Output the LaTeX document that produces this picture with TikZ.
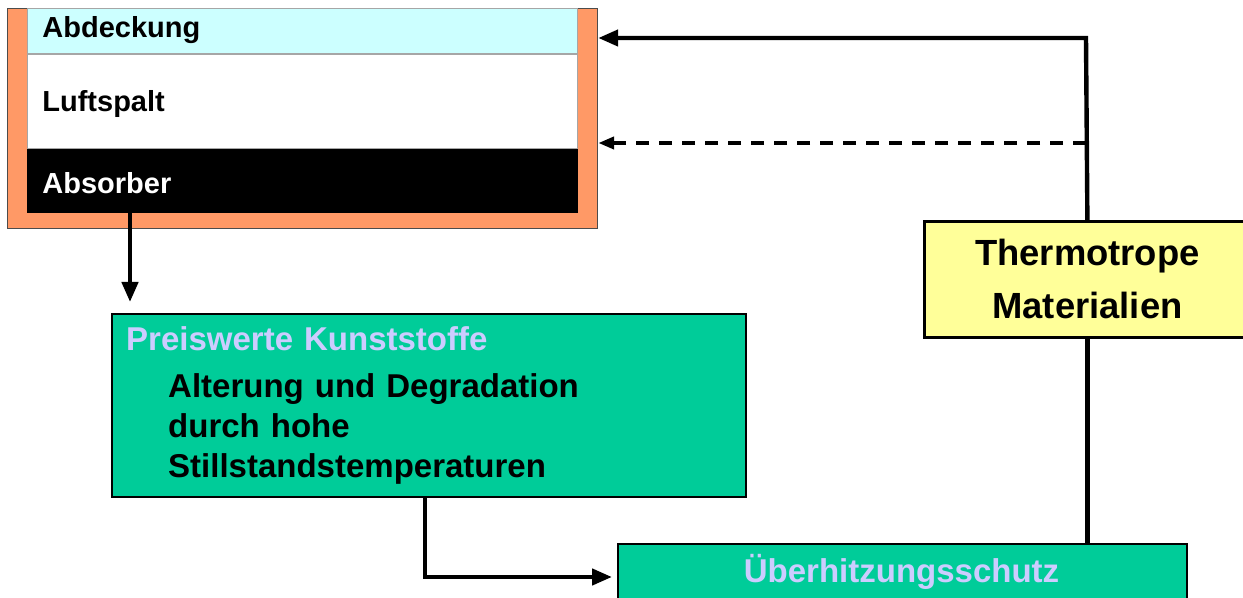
\documentclass[tikz,border=0pt]{standalone}
\usepackage{fontspec}
\setmainfont{Liberation Sans}
\usetikzlibrary{arrows.meta,positioning,calc}
\definecolor{casing}{HTML}{FF9966}
\definecolor{glass}{HTML}{CCFFFF}
\definecolor{mint}{HTML}{00CC99}
\definecolor{paleyellow}{HTML}{FFFF99}
\definecolor{lilac}{HTML}{CCCCFF}
\tikzset{
  layer/.style={
    rectangle,
    draw=gray!70,
    line width=0.4pt,
    minimum width=275pt,
    inner sep=0pt
  },
  layertext/.style={
    anchor=base west,
    inner sep=0pt,
    font=\fontsize{14.5}{17}\selectfont\bfseries
  },
  greenblock/.style={
    rectangle,
    draw=black,
    line width=1.2pt,
    fill=mint,
    inner sep=0pt
  },
  yellowblock/.style={
    rectangle,
    draw=black,
    line width=1.4pt,
    fill=paleyellow,
    align=center,
    font=\fontsize{18.2}{26.5}\selectfont\bfseries
  },
  arrow/.style={
    -{Triangle[length=10pt,width=8pt]},
    line width=2.2pt
  },
  darrow/.style={
    -{Triangle[length=8pt,width=6pt]},
    line width=2.2pt,
    dash pattern=on 6.5pt off 5pt
  },
  wire/.style={
    line width=2.2pt
  }
}

\begin{document}
\begin{tikzpicture}[x=0.5pt, y=-0.5pt]
\useasboundingbox (0,0) rectangle (1243,598);
\clip (0,0) rectangle (1243,598);

% collector cross-section
\node[rectangle, draw=black!70, line width=0.6pt, fill=casing, anchor=north west,
      minimum width=295pt, minimum height=110pt] (casing) at (7,8) {};
\node[layer, fill=glass, anchor=north west, minimum height=22.5pt] (cover) at (27,8) {};
\node[layer, fill=white, below=0pt of cover, minimum height=47pt] (gap) {};
\node[layer, fill=black, draw=black, below=0pt of gap, minimum height=31.5pt] (absorber) {};
\node[layertext] (covertext) at (42,38) {Abdeckung};
\node[layertext] (gaptext) at (42,112) {Luftspalt};
\node[layertext, text=white] (absorbertext) at (42,194) {Absorber};

% consequences
\node[greenblock, anchor=north west, minimum width=317pt, minimum height=91.5pt,
      text width=303pt, inner xsep=7pt, align=left,
      font=\fontsize{16.5}{20}\selectfont\bfseries] (plastics) at (111,313)
  {\textcolor{lilac}{Preiswerte Kunststoffe}\\[3.5pt]
   \hspace*{21pt}Alterung und Degradation\\
   \hspace*{21pt}durch hohe\\
   \hspace*{21pt}Stillstandstemperaturen};
\node[greenblock, anchor=north west, minimum width=284.5pt, minimum height=45pt] (protection) at (617,543) {};
\node[anchor=base, inner sep=0pt, text=lilac, font=\fontsize{16.5}{20}\selectfont\bfseries]
  (protectiontext) at (901.5,582) {Überhitzungsschutz};
\node[yellowblock, anchor=north west, minimum width=163pt, minimum height=58pt] (thermo) at (923,220)
  {Thermotrope\\Materialien};

\coordinate (drop) at ($(absorber.south west)+(103,0)$);
\coordinate (bend) at (425,577);
\coordinate (feedtop) at (1086,38);
\coordinate (feedmid) at (1086,143);

\draw[arrow, shorten >=5.5pt] (drop) -- (drop |- plastics.north);
\draw[arrow, shorten >=2.5pt] (bend |- plastics.south) -- (bend) -- (bend -| protection.west);
\draw[wire] (thermo.south) -- (thermo.south |- protection.north);
\draw[arrow] (thermo.north) -- (feedtop) -- (feedtop -| casing.east);
\draw[darrow] (feedmid) -- (feedmid -| casing.east);
\end{tikzpicture}
\end{document}
